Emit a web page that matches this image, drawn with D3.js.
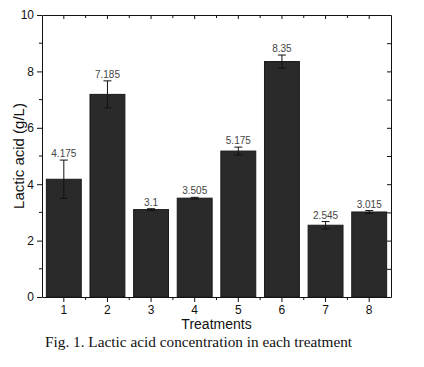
<!DOCTYPE html>
<html>
<head>
<meta charset="utf-8">
<script src="https://cdn.jsdelivr.net/npm/d3@7"></script>
<style>
  body { margin: 0; background: #fff; }
  svg { display: block; }
  .axis text { font-family: Arial, "Liberation Sans", sans-serif; font-size: 12px; fill: #111; }
  .axis path, .axis line { stroke: #111; }
</style>
</head>
<body>
<svg id="chart"></svg>
<script>
// Lactic acid per treatment
var width = 424,
    height = 367;

var m = [15, 33, 70, 42],   // top, right, bottom, left
    w = width - m[1] - m[3],
    h = height - m[0] - m[2];

const treatments = ["1", "2", "3", "4", "5", "6", "7", "8"];
const lactic = [4.175, 7.185, 3.1, 3.505, 5.175, 8.35, 2.545, 3.015];
const errors = [0.68, 0.48, 0.03, 0.03, 0.14, 0.23, 0.13, 0.05];
const yTicks = [0, 2, 4, 6, 8, 10];
const yMinor = [1, 3, 5, 7, 9];

var svg = d3.select("#chart")
    .attr("width", width)
    .attr("height", height);

var g = svg.append("g")
    .attr("transform", `translate(${m[3]},${m[0]})`);

var xscale = d3.scaleBand()
    .domain(treatments)
    .range([0, w])
    .paddingInner(0.2)
    .paddingOuter(0.1);

var yscale = d3.scaleLinear()
    .domain([0, 10])
    .range([h, 0]);

var step = xscale.step();
var boundaries = treatments.slice(1).map(function(d) { return xscale(d) - step * 0.1; });

// bars
g.selectAll(".bar")
    .data(lactic)
    .enter().append("rect")
    .attr("class", "bar")
    .attr("x", function(d, i) { return xscale(treatments[i]); })
    .attr("y", function(d) { return yscale(d); })
    .attr("width", xscale.bandwidth())
    .attr("height", function(d) { return h - yscale(d); })
    .attr("fill", "#2a2a2a")
    .attr("stroke", "#1a1a1a")
    .attr("stroke-width", 1);

// error bars
var eb = g.selectAll(".err")
    .data(lactic)
    .enter().append("g")
    .attr("class", "err")
    .attr("transform", function(d, i) { return `translate(${xscale(treatments[i]) + xscale.bandwidth() / 2},0)`; })
    .attr("stroke", "#111")
    .attr("stroke-width", 1);

eb.append("line")
    .attr("y1", function(d, i) { return yscale(d + errors[i]); })
    .attr("y2", function(d, i) { return yscale(d - errors[i]); });
eb.append("line")
    .attr("x1", -4).attr("x2", 4)
    .attr("y1", function(d, i) { return yscale(d + errors[i]); })
    .attr("y2", function(d, i) { return yscale(d + errors[i]); });
eb.append("line")
    .attr("x1", -4).attr("x2", 4)
    .attr("y1", function(d, i) { return yscale(d - errors[i]); })
    .attr("y2", function(d, i) { return yscale(d - errors[i]); });

// value labels
g.selectAll(".val")
    .data(lactic)
    .enter().append("text")
    .attr("class", "val")
    .attr("x", function(d, i) { return xscale(treatments[i]) + xscale.bandwidth() / 2; })
    .attr("y", function(d, i) { return yscale(d + errors[i]) - 3; })
    .attr("text-anchor", "middle")
    .style("font-family", "Arial, 'Liberation Sans', sans-serif")
    .style("font-size", "10px")
    .style("fill", "#444")
    .text(function(d) { return String(d); });

// bottom axis
var xAxis = g.append("g")
    .attr("class", "axis")
    .attr("transform", `translate(0,${h})`)
    .call(d3.axisBottom(xscale).tickSize(5).tickSizeOuter(0).tickPadding(3));
xAxis.selectAll(".minor")
    .data(boundaries)
    .enter().append("line")
    .attr("x1", function(d) { return d; }).attr("x2", function(d) { return d; })
    .attr("y1", 0).attr("y2", 3)
    .attr("stroke", "#111");

// top axis, ticks inward
var topAxis = g.append("g")
    .attr("class", "axis")
    .call(d3.axisTop(xscale).tickSize(-4).tickSizeOuter(0).tickFormat(""));
topAxis.selectAll(".minor")
    .data(boundaries)
    .enter().append("line")
    .attr("x1", function(d) { return d; }).attr("x2", function(d) { return d; })
    .attr("y1", 0).attr("y2", 3)
    .attr("stroke", "#111");

// left axis
var yAxis = g.append("g")
    .attr("class", "axis")
    .call(d3.axisLeft(yscale).tickValues(yTicks).tickSize(5).tickSizeOuter(0).tickPadding(3));
yAxis.selectAll(".minor")
    .data(yMinor)
    .enter().append("line")
    .attr("x1", -3).attr("x2", 0)
    .attr("y1", function(d) { return yscale(d); })
    .attr("y2", function(d) { return yscale(d); })
    .attr("stroke", "#111");

// right axis, ticks inward
g.append("g")
    .attr("class", "axis")
    .attr("transform", `translate(${w},0)`)
    .call(d3.axisRight(yscale).tickValues(d3.range(0, 11)).tickSize(-4).tickSizeOuter(0).tickFormat(""));

// axis titles
g.append("text")
    .attr("x", w / 2)
    .attr("y", h + 32)
    .attr("text-anchor", "middle")
    .style("font-family", "Arial, 'Liberation Sans', sans-serif")
    .style("font-size", "14px")
    .style("fill", "#111")
    .text("Treatments");

g.append("text")
    .attr("transform", `translate(-18,${h / 2}) rotate(-90)`)
    .attr("text-anchor", "middle")
    .style("font-family", "Arial, 'Liberation Sans', sans-serif")
    .style("font-size", "15px")
    .style("fill", "#111")
    .text("Lactic acid (g/L)");

// caption
svg.append("text")
    .attr("x", 45)
    .attr("y", 347)
    .style("font-family", "'Liberation Serif', 'Times New Roman', serif")
    .style("font-size", "15.3px")
    .style("fill", "#111")
    .text("Fig. 1. Lactic acid concentration in each treatment");
</script>
</body>
</html>
